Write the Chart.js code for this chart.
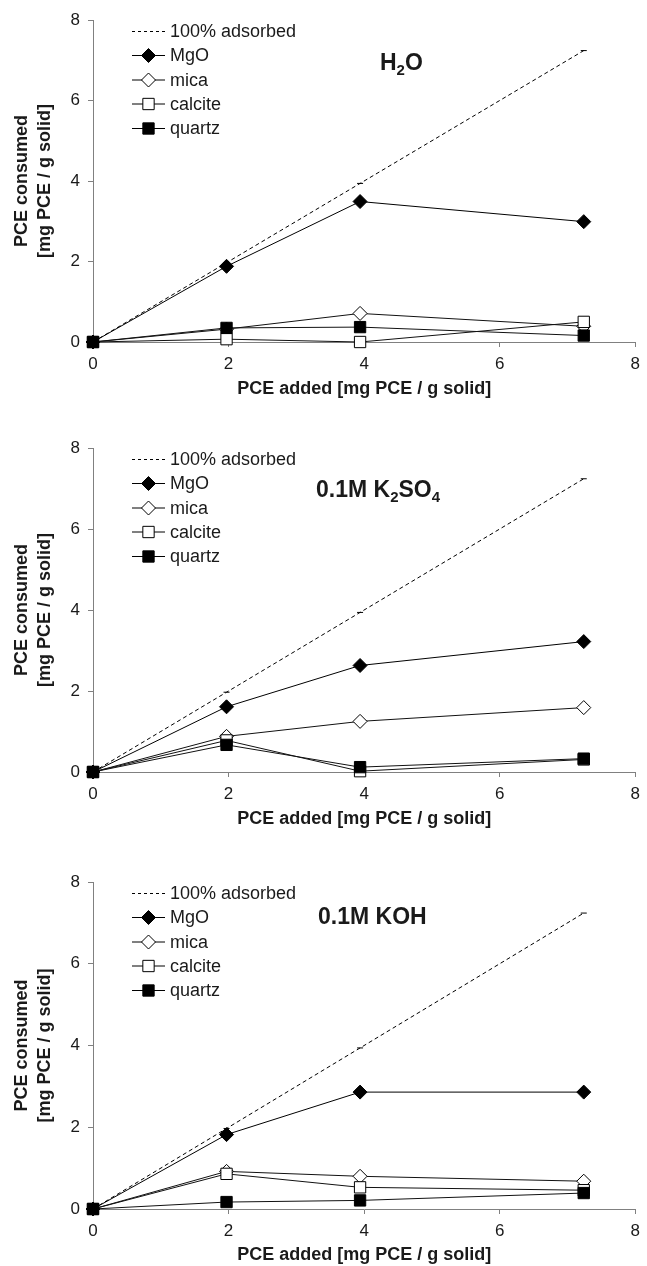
<!DOCTYPE html>
<html>
<head>
<meta charset="utf-8">
<script src="https://cdn.jsdelivr.net/npm/chart.js@4.4.0/dist/chart.umd.min.js"></script>
<style>
  html, body { margin: 0; padding: 0; background: #fff; overflow: hidden; }
  canvas { position: absolute; left: 0; }
</style>
</head>
<body>
<canvas id="c1" width="647" height="410" style="top:0px"></canvas>
<canvas id="c2" width="647" height="412" style="top:428px"></canvas>
<canvas id="c3" width="647" height="404" style="top:862px"></canvas>
<script>
// x positions (PCE added) shared by all panels
const pceAdded = [0, 1.97, 3.94, 7.24];
// reference line: everything added is adsorbed
const fullyAdsorbed = [0, 1.97, 3.94, 7.24];

// H2O
const h2oMgO     = [0, 1.88, 3.49, 2.99];
const h2oMica    = [0, 0.32, 0.71, 0.39];
const h2oCalcite = [0, 0.07, 0.00, 0.50];
const h2oQuartz  = [0, 0.35, 0.37, 0.16];

// 0.1M K2SO4
const k2so4MgO     = [0, 1.61, 2.63, 3.22];
const k2so4Mica    = [0, 0.88, 1.25, 1.59];
const k2so4Calcite = [0, 0.78, 0.02, 0.31];
const k2so4Quartz  = [0, 0.67, 0.12, 0.33];

// 0.1M KOH
const kohMgO     = [0, 1.82, 2.86, 2.86];
const kohMica    = [0, 0.92, 0.80, 0.68];
const kohCalcite = [0, 0.86, 0.53, 0.46];
const kohQuartz  = [0, 0.17, 0.21, 0.39];

const seriesLabels = ['100% adsorbed', 'MgO', 'mica', 'calcite', 'quartz'];
const xTitle = 'PCE added [mg PCE / g solid]';
const yTitle = ['PCE consumed', '[mg PCE / g solid]'];

const FONT = '"Liberation Sans", Arial, Helvetica, sans-serif';
const TEXT = '#1a1a1a';
const AXIS = '#808080';
Chart.defaults.font.family = FONT;

function pts(ys) {
    return pceAdded.map((x, i) => ({ x: x, y: ys[i] }));
}

function makeDatasets(mgo, mica, calcite, quartz) {
    return [
        { label: seriesLabels[0], data: pts(fullyAdsorbed), borderColor: '#000', borderWidth: 1,
          borderDash: [4, 3], pointStyle: 'line', pointRadius: 3, pointBorderWidth: 1,
          pointBorderColor: '#000', order: 5 },
        { label: seriesLabels[1], data: pts(mgo), borderColor: '#000', borderWidth: 1,
          pointStyle: 'rectRot', pointRadius: 7, pointBackgroundColor: '#000',
          pointBorderColor: '#000', pointBorderWidth: 1, order: 4 },
        { label: seriesLabels[2], data: pts(mica), borderColor: '#111', borderWidth: 1,
          pointStyle: 'rectRot', pointRadius: 7, pointBackgroundColor: '#fff',
          pointBorderColor: '#000', pointBorderWidth: 1, order: 3 },
        { label: seriesLabels[3], data: pts(calcite), borderColor: '#111', borderWidth: 1,
          pointStyle: 'rect', pointRadius: 8, pointBackgroundColor: '#fff',
          pointBorderColor: '#000', pointBorderWidth: 1, order: 2 },
        { label: seriesLabels[4], data: pts(quartz), borderColor: '#111', borderWidth: 1,
          pointStyle: 'rect', pointRadius: 8, pointBackgroundColor: '#000',
          pointBorderColor: '#000', pointBorderWidth: 1, order: 1 }
    ];
}

// legend in the upper left of the plot: line sample + marker + label
const insideLegend = {
    id: 'insideLegend',
    afterDraw(chart) {
        const { ctx, chartArea } = chart;
        const rows = [11.5, 35.5, 60, 84, 108.5];
        ctx.save();
        chart.data.datasets.forEach((ds, i) => {
            const y = chartArea.top + rows[i];
            const x0 = chartArea.left + 39;
            const x1 = chartArea.left + 72;
            ctx.strokeStyle = '#000';
            ctx.lineWidth = 1;
            ctx.setLineDash(ds.borderDash ? [3, 3] : []);
            ctx.beginPath();
            ctx.moveTo(x0, y);
            ctx.lineTo(x1, y);
            ctx.stroke();
            ctx.setLineDash([]);
            if (ds.pointStyle !== 'line') {
                ctx.fillStyle = ds.pointBackgroundColor;
                ctx.strokeStyle = ds.pointBorderColor;
                Chart.helpers.drawPoint(ctx, {
                    pointStyle: ds.pointStyle, radius: ds.pointRadius,
                    borderWidth: 1, rotation: 0
                }, (x0 + x1) / 2, y);
            }
            ctx.fillStyle = TEXT;
            ctx.font = '18px ' + FONT;
            ctx.textBaseline = 'middle';
            ctx.textAlign = 'left';
            ctx.fillText(ds.label, x1 + 5, y + 1);
        });
        ctx.restore();
    }
};

// panel title with subscripts, e.g. H2O
const panelTitle = {
    id: 'panelTitle',
    afterDraw(chart, args, opts) {
        const ctx = chart.ctx;
        let x = opts.x;
        ctx.save();
        ctx.fillStyle = TEXT;
        ctx.textBaseline = 'middle';
        ctx.textAlign = 'left';
        opts.parts.forEach(([txt, sub]) => {
            ctx.font = 'bold ' + (sub ? 15 : 23) + 'px ' + FONT;
            ctx.fillText(txt, x, sub ? opts.y + 7 : opts.y);
            x += ctx.measureText(txt).width;
        });
        ctx.restore();
    }
};

const panels = [
    { id: 'c1', sets: [h2oMgO, h2oMica, h2oCalcite, h2oQuartz],
      title: [['H', 0], ['2', 1], ['O', 0]], tx: 380, ty: 63.5,
      xAxisHeight: 68, xTitlePad: 10 },
    { id: 'c2', sets: [k2so4MgO, k2so4Mica, k2so4Calcite, k2so4Quartz],
      title: [['0.1M K', 0], ['2', 1], ['SO', 0], ['4', 1]], tx: 316, ty: 62.5,
      xAxisHeight: 68, xTitlePad: 10 },
    { id: 'c3', sets: [kohMgO, kohMica, kohCalcite, kohQuartz],
      title: [['0.1M KOH', 0]], tx: 318, ty: 55.5,
      xAxisHeight: 57, xTitlePad: 0 }
];

panels.forEach(p => {
    const ctx = document.getElementById(p.id).getContext('2d');
    const datasets = makeDatasets(...p.sets).map(d => Object.assign(d, { clip: false, fill: false, tension: 0 }));
    new Chart(ctx, {
        type: 'line',
        data: { datasets: datasets },
        options: {
            responsive: false,
            animation: false,
            devicePixelRatio: 1,
            layout: { padding: { top: 20, right: 7, left: 0, bottom: 0 } },
            plugins: {
                legend: { display: false },
                tooltip: { enabled: false },
                panelTitle: { parts: p.title, x: p.tx, y: p.ty }
            },
            scales: {
                x: {
                    type: 'linear', min: 0, max: 8,
                    ticks: { stepSize: 2, color: TEXT, font: { size: 17 }, padding: 7, maxRotation: 0 },
                    grid: { drawOnChartArea: false, tickLength: 5, tickColor: AXIS },
                    border: { color: AXIS },
                    title: { display: true, text: xTitle, color: TEXT,
                             font: { size: 18, weight: 'bold', lineHeight: 1.2 },
                             padding: { top: 0, bottom: p.xTitlePad } },
                    afterFit: s => { s.height = p.xAxisHeight; }
                },
                y: {
                    min: 0, max: 8,
                    ticks: { stepSize: 2, color: TEXT, font: { size: 17 }, padding: 8 },
                    grid: { drawOnChartArea: false, tickLength: 5, tickColor: AXIS },
                    border: { color: AXIS },
                    title: { display: true, text: yTitle, color: TEXT,
                             font: { size: 18, weight: 'bold', lineHeight: 1.3 },
                             padding: { top: 10, bottom: 0 } },
                    afterFit: s => { s.width = 93; }
                }
            }
        },
        plugins: [insideLegend, panelTitle]
    });
});
</script>
</body>
</html>
